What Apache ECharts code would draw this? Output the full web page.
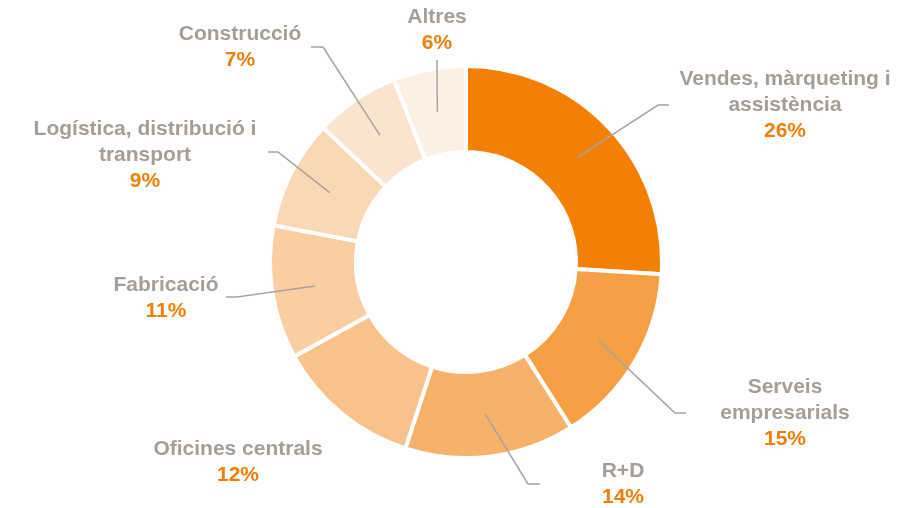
<!DOCTYPE html>
<html>
<head>
<meta charset="utf-8">
<script src="https://cdn.jsdelivr.net/npm/echarts@6/dist/echarts.min.js"></script>
<style>
  html, body { margin: 0; padding: 0; background: #fff; }
  #chart { width: 909px; height: 508px; }
</style>
</head>
<body>
<div id="chart"></div>
<script>
// sectors, clockwise from the top
const categories = [
  'Vendes, màrqueting i\nassistència',
  'Serveis\nempresarials',
  'R+D',
  'Oficines centrals',
  'Fabricació',
  'Logística, distribució i\ntransport',
  'Construcció',
  'Altres'
]
const shares = [26, 15, 14, 12, 11, 9, 7, 6]
const colors = ['#f28005', '#f5a044', '#f6b16b', '#f8c28d', '#f9cea3', '#fad8b5', '#fbe4cf', '#fcefe3']

// label placement (label centre, elbow, end of leader line)
const labelSpots = [
  { x: 785, y: 105, elbow: [658, 105], end: [669, 105] },
  { x: 785, y: 413, elbow: [675, 413], end: [686, 413] },
  { x: 623, y: 484, elbow: [528, 484], end: [540, 484] },
  { x: 238, y: 462, noLine: true },
  { x: 166, y: 298, elbow: [237, 297], end: [226, 297] },
  { x: 145, y: 155, elbow: [278, 152], end: [268, 152] },
  { x: 240, y: 47, elbow: [323, 47], end: [311, 47] },
  { x: 437, y: 30, elbow: [437, 60], end: [437, 60] }
]

const pieData = categories.map((name, i) => ({
  name: name,
  value: shares[i],
  itemStyle: { color: colors[i] }
}))

const labelData = categories.map((name, i) => ({
  name: name,
  value: shares[i],
  labelLine: { show: !labelSpots[i].noLine }
}))

const chart = echarts.init(document.getElementById('chart'))
const center = [466, 262]
chart.setOption({
  animation: false,
  series: [
    {
      type: 'pie',
      center: center,
      radius: [110, 196],
      startAngle: 90,
      clockwise: true,
      silent: true,
      z: 1,
      itemStyle: { borderColor: '#fff', borderWidth: 4 },
      label: { show: false },
      labelLine: { show: false },
      data: pieData
    },
    {
      // invisible copy, only used to anchor the labels mid-ring
      type: 'pie',
      center: center,
      radius: [0, 153],
      startAngle: 90,
      clockwise: true,
      silent: true,
      z: 5,
      itemStyle: { color: 'transparent', borderWidth: 0 },
      label: {
        show: true,
        formatter: function (p) {
          const lines = p.name.split('\n').map(s => '{n|' + s + '}')
          return lines.join('\n') + '\n{p|' + p.value + '%}'
        },
        rich: {
          n: { fontFamily: 'Liberation Sans', fontWeight: 'bold', fontSize: 21, color: '#a59e98', lineHeight: 26, align: 'center' },
          p: { fontFamily: 'Liberation Sans', fontWeight: 'bold', fontSize: 21, color: '#f07f09', lineHeight: 26, align: 'center' }
        }
      },
      labelLine: {
        show: true,
        lineStyle: { color: '#aaa39c', width: 1.5 }
      },
      labelLayout: function (params) {
        const spot = labelSpots[params.dataIndex]
        const res = { x: spot.x, y: spot.y, align: 'center', verticalAlign: 'middle' }
        if (!spot.noLine && params.labelLinePoints) {
          res.labelLinePoints = [params.labelLinePoints[0], spot.elbow, spot.end]
        }
        return res
      },
      data: labelData
    }
  ]
})
</script>
</body>
</html>
